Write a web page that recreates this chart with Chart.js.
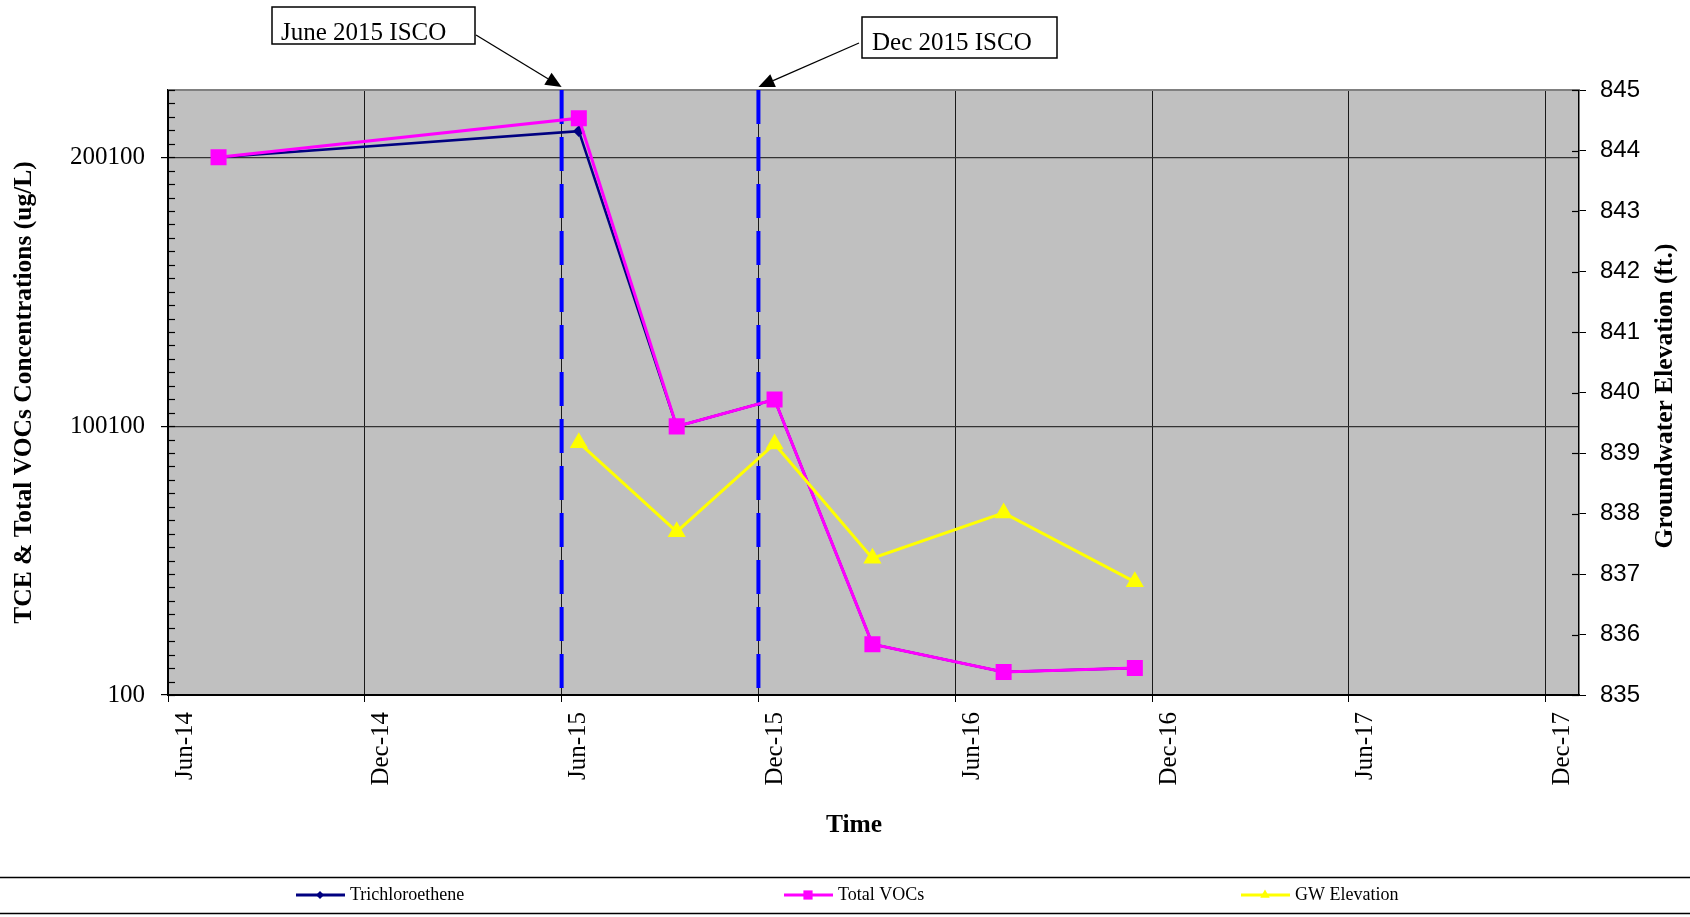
<!DOCTYPE html>
<html>
<head>
<meta charset="utf-8">
<script src="https://cdn.jsdelivr.net/npm/chart.js@4.4.1/dist/chart.umd.min.js"></script>
<style>
  body { margin: 0; background: #fff; }
  canvas { display: block; }
</style>
</head>
<body>
<canvas id="myChart" width="1690" height="917"></canvas>
<script>
// x axis runs in days from the first tick
var axisStart = '2014-06-01';
var xTickLabels = ['Jun-14', 'Dec-14', 'Jun-15', 'Dec-15', 'Jun-16', 'Dec-16', 'Jun-17', 'Dec-17'];
var xTickStep = 183;
var xMaxDays = 1312;

var sampleDates = ['2014-07-18', '2015-06-18', '2015-09-17', '2015-12-17', '2016-03-17', '2016-07-17', '2016-11-16'];
var tceValues = [200100, 209800, 100000, 110000, 19000, 8650, 10100];
var totalVocValues = [200100, 214600, 100000, 110000, 19000, 8650, 10100];

var gwDates = ['2015-06-18', '2015-09-17', '2015-12-17', '2016-03-17', '2016-07-17', '2016-11-16'];
var gwValues = [839.17, 837.70, 839.15, 837.26, 838.01, 836.87];

var iscoDates = ['2015-06-02', '2015-12-02'];
var iscoLabels = ['June 2015 ISCO', 'Dec 2015 ISCO'];

var leftTicks = [100, 100100, 200100];
var leftMin = 100, leftMax = 225100, leftMinorStep = 5000;
var rightMin = 835, rightMax = 845;

function dayOf(d) {
  return Math.round((Date.parse(d) - Date.parse(axisStart)) / 86400000);
}
function points(dates, values) {
  return dates.map(function (d, i) { return { x: dayOf(d), y: values[i] }; });
}

var serif = 'Liberation Serif';
var sans = 'Liberation Sans';
Chart.defaults.font.family = serif;

// gray plot background and the gray top border
var plotBackground = {
  id: 'plotBackground',
  beforeDraw: function (chart) {
    var a = chart.chartArea, c = chart.ctx;
    c.save();
    c.fillStyle = '#C0C0C0';
    c.fillRect(a.left, a.top, a.right - a.left, a.bottom - a.top);
    c.restore();
  },
  beforeDatasetsDraw: function (chart) {
    var a = chart.chartArea, c = chart.ctx;
    c.save();
    c.strokeStyle = '#808080';
    c.lineWidth = 2;
    c.beginPath();
    c.moveTo(a.left, a.top);
    c.lineTo(a.right, a.top);
    c.stroke();
    // minor ticks inside the left axis, ticks inside the right axis
    c.strokeStyle = '#000';
    c.lineWidth = 1.2;
    var y = chart.scales.y, y1 = chart.scales.y1;
    for (var v = leftMin; v <= leftMax; v += leftMinorStep) {
      var py = Math.round(y.getPixelForValue(v)) + 0.5;
      c.beginPath();
      c.moveTo(a.left, py);
      c.lineTo(a.left + 7, py);
      c.stroke();
    }
    for (var w = rightMin; w <= rightMax; w++) {
      var qy = Math.round(y1.getPixelForValue(w)) + 0.5;
      c.beginPath();
      c.moveTo(a.right - 7, qy);
      c.lineTo(a.right, qy);
      c.stroke();
    }
    c.restore();
  }
};

function arrow(c, x0, y0, x1, y1) {
  var ang = Math.atan2(y1 - y0, x1 - x0);
  var len = 16, half = 7;
  var bx = x1 - Math.cos(ang) * len, by = y1 - Math.sin(ang) * len;
  c.beginPath();
  c.moveTo(x0, y0);
  c.lineTo(bx, by);
  c.stroke();
  c.beginPath();
  c.moveTo(x1, y1);
  c.lineTo(bx + Math.sin(ang) * half, by - Math.cos(ang) * half);
  c.lineTo(bx - Math.sin(ang) * half, by + Math.cos(ang) * half);
  c.closePath();
  c.fill();
}

// titles, ISCO call-outs and the legend strip
var decorations = {
  id: 'decorations',
  afterDraw: function (chart) {
    var c = chart.ctx, a = chart.chartArea, x = chart.scales.x;
    c.save();
    c.fillStyle = '#000';
    c.strokeStyle = '#000';

    c.font = 'bold 25.5px ' + serif;
    c.textAlign = 'center';
    c.textBaseline = 'middle';
    c.fillText('Time', 854, 825);

    c.save();
    c.translate(24, (a.top + a.bottom) / 2);
    c.rotate(-Math.PI / 2);
    c.fillText('TCE & Total VOCs Concentrations (ug/L)', 0, 0);
    c.restore();

    c.save();
    c.translate(1665, 396);
    c.rotate(-Math.PI / 2);
    c.fillText('Groundwater Elevation (ft.)', 0, 0);
    c.restore();

    // call-out boxes
    var boxes = [
      { left: 272, top: 7, w: 203, h: 37, tx: 281, ty: 40, from: [476, 35] },
      { left: 862, top: 17, w: 195, h: 41, tx: 872, ty: 50, from: [859, 43] }
    ];
    c.font = '25px ' + serif;
    c.textAlign = 'left';
    c.textBaseline = 'alphabetic';
    boxes.forEach(function (b, i) {
      c.fillStyle = '#fff';
      c.fillRect(b.left, b.top, b.w, b.h);
      c.lineWidth = 1.5;
      c.strokeRect(b.left, b.top, b.w, b.h);
      c.fillStyle = '#000';
      c.fillText(iscoLabels[i], b.tx, b.ty);
      c.lineWidth = 1.3;
      arrow(c, b.from[0], b.from[1], x.getPixelForValue(dayOf(iscoDates[i])), a.top - 3);
    });

    // legend strip
    c.lineWidth = 1.5;
    c.beginPath();
    c.moveTo(0, 877.5); c.lineTo(chart.width, 877.5);
    c.moveTo(0, 913.5); c.lineTo(chart.width, 913.5);
    c.stroke();
    var starts = [296, 784, 1241];
    var ly = 895;
    c.font = '18px ' + serif;
    c.textBaseline = 'middle';
    [0, 1, 2].forEach(function (di, k) {
      var ds = chart.data.datasets[di];
      var sx = starts[k];
      c.strokeStyle = ds.borderColor;
      c.lineWidth = 3;
      c.beginPath();
      c.moveTo(sx, ly); c.lineTo(sx + 49, ly);
      c.stroke();
      c.fillStyle = ds.backgroundColor;
      Chart.helpers.drawPoint(c, { pointStyle: ds.pointStyle, radius: ds.legendRadius, borderWidth: 0 }, sx + 24, ly);
      c.fillStyle = '#000';
      c.fillText(ds.label, sx + 54, ly);
    });
    c.restore();
  }
};

var ctx = document.getElementById('myChart').getContext('2d');
var chart = new Chart(ctx, {
  type: 'line',
  data: {
    datasets: [{
      label: 'Trichloroethene',
      data: points(sampleDates, tceValues),
      borderColor: '#000080',
      backgroundColor: '#000080',
      borderWidth: 2.5,
      pointStyle: 'rectRot',
      pointRadius: 4,
      legendRadius: 4,
      yAxisID: 'y',
      order: 3
    }, {
      label: 'Total VOCs',
      data: points(sampleDates, totalVocValues),
      borderColor: '#FF00FF',
      backgroundColor: '#FF00FF',
      borderWidth: 3,
      pointStyle: 'rect',
      pointRadius: 9.2,
      legendRadius: 6.5,
      yAxisID: 'y',
      order: 2
    }, {
      label: 'GW Elevation',
      data: points(gwDates, gwValues),
      borderColor: '#FFFF00',
      backgroundColor: '#FFFF00',
      borderWidth: 3,
      pointStyle: 'triangle',
      pointRadius: 7.5,
      legendRadius: 5.5,
      yAxisID: 'y1',
      order: 1
    }, {
      label: iscoLabels[0],
      data: [{ x: dayOf(iscoDates[0]), y: leftMax }, { x: dayOf(iscoDates[0]), y: leftMin }],
      borderColor: '#0000FF',
      borderWidth: 4,
      borderDash: [34, 13],
      pointRadius: 0,
      yAxisID: 'y',
      order: 4
    }, {
      label: iscoLabels[1],
      data: [{ x: dayOf(iscoDates[1]), y: leftMax }, { x: dayOf(iscoDates[1]), y: leftMin }],
      borderColor: '#0000FF',
      borderWidth: 4,
      borderDash: [34, 13],
      pointRadius: 0,
      yAxisID: 'y',
      order: 4
    }]
  },
  options: {
    responsive: false,
    animation: false,
    layout: { padding: { top: 90, left: 0, right: 0, bottom: 0 } },
    elements: { line: { tension: 0 }, point: { borderWidth: 0 } },
    plugins: { legend: { display: false }, tooltip: { enabled: false } },
    scales: {
      x: {
        type: 'linear',
        min: 0,
        max: xMaxDays,
        afterBuildTicks: function (s) {
          s.ticks = xTickLabels.map(function (l, i) { return { value: i * xTickStep }; });
        },
        afterFit: function (s) { s.height = 222; },
        ticks: {
          autoSkip: false,
          minRotation: 90,
          maxRotation: 90,
          padding: 10,
          labelOffset: 17,
          color: '#000',
          font: { family: serif, size: 25 },
          callback: function (v, i) { return xTickLabels[i]; }
        },
        grid: { color: '#1a1a1a', lineWidth: 1, tickLength: 7, tickColor: '#000' },
        border: { color: '#000', width: 2 }
      },
      y: {
        type: 'linear',
        position: 'left',
        min: leftMin,
        max: leftMax,
        afterBuildTicks: function (s) {
          s.ticks = leftTicks.map(function (v) { return { value: v }; });
        },
        afterFit: function (s) { s.width = 168; },
        ticks: {
          padding: 16,
          color: '#000',
          font: { family: serif, size: 25 },
          callback: function (v) { return String(v); }
        },
        grid: { color: '#333', lineWidth: 1.2, tickLength: 7, tickColor: '#000' },
        border: { color: '#000', width: 2 }
      },
      y1: {
        type: 'linear',
        position: 'right',
        min: rightMin,
        max: rightMax,
        afterFit: function (s) { s.width = 111; },
        ticks: {
          stepSize: 1,
          padding: 14,
          color: '#000',
          font: { family: sans, size: 24 }
        },
        grid: { drawOnChartArea: false, tickLength: 7, tickColor: '#000' },
        border: { color: '#000', width: 1.5 }
      }
    }
  },
  plugins: [plotBackground, decorations]
});
</script>
</body>
</html>
